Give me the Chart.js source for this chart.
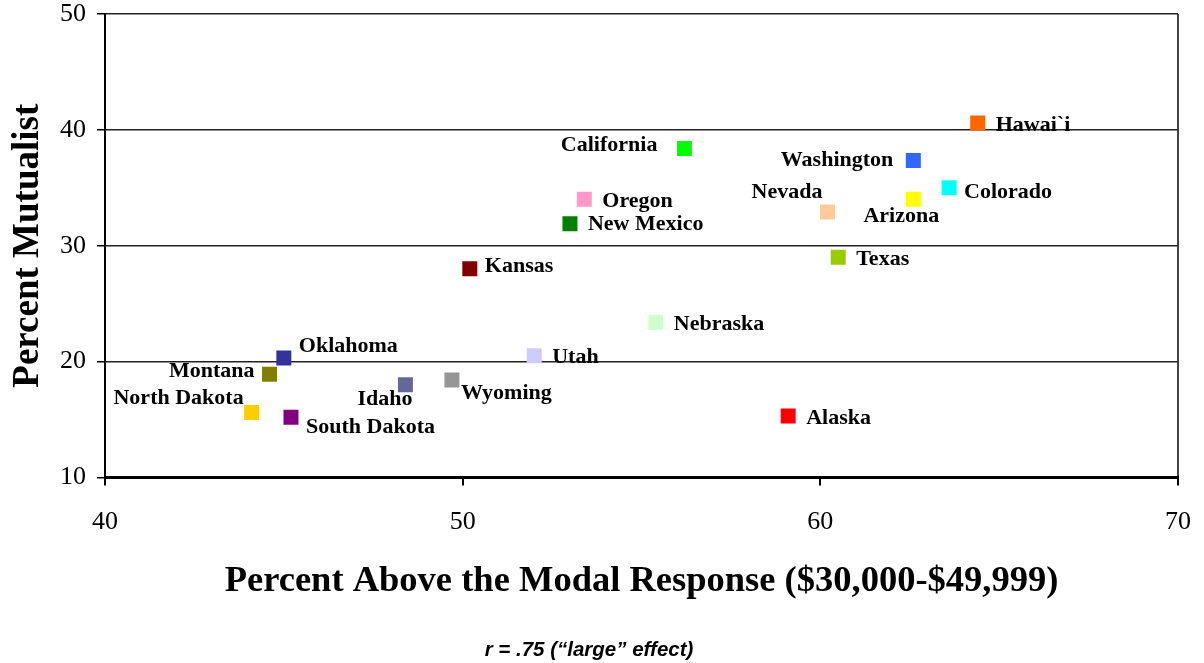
<!DOCTYPE html>
<html>
<head>
<meta charset="utf-8">
<script src="https://cdn.jsdelivr.net/npm/chart.js@4/dist/chart.umd.min.js"></script>
<style>
  html, body { margin: 0; padding: 0; background: #fff; }
  #wrap { width: 1204px; height: 663px; position: relative; }
</style>
</head>
<body>
<div id="wrap"><canvas id="chart"></canvas></div>
<script>
// states, x = percent above modal income response, y = percent mutualist
const states = ['Hawai`i', 'California', 'Washington', 'Colorado', 'Arizona', 'Oregon', 'Nevada',
  'New Mexico', 'Texas', 'Kansas', 'Nebraska', 'Utah', 'Oklahoma', 'Montana', 'Wyoming', 'Idaho',
  'North Dakota', 'South Dakota', 'Alaska'];
const aboveModal = [64.4, 56.2, 62.6, 63.6, 62.6, 53.4, 60.2, 53.0, 60.5, 50.2, 55.4, 52.0, 45.0, 44.6, 49.7, 48.4, 44.1, 45.2, 59.1];
const mutualist = [40.6, 38.4, 37.35, 35.0, 34.0, 34.0, 32.9, 31.9, 29.0, 28.0, 23.4, 20.5, 20.3, 18.9, 18.4, 18.0, 15.6, 15.2, 15.3];
const colors = ['#FF6600', '#00FF00', '#3366FF', '#00FFFF', '#FFFF00', '#FF99CC', '#FFCC99',
  '#008000', '#99CC00', '#800000', '#CCFFCC', '#CCCCFF', '#333399', '#808000', '#969696', '#666699',
  '#FFCC00', '#800080', '#FF0000'];
const xTicks = [40, 50, 60, 70];
const yTicks = [10, 20, 30, 40, 50];

// where each state name sits next to its marker (px offset, text align)
const labelPlace = [
  [18, 2, 'left'], [-27, -3, 'right'], [-20, 0, 'right'], [15, 5, 'left'], [-12, 17, 'center'],
  [18, 2, 'left'], [-5, -20, 'right'], [18, 1, 'left'], [18, 2, 'left'], [15, -3, 'left'],
  [18, 2, 'left'], [18, 2, 'left'], [15, -12, 'left'], [-15, -3, 'right'], [9, 13, 'left'],
  [7, 15, 'right'], [-8, -14, 'right'], [15, 10, 'left'], [18, 2, 'left']
];

const serif = '"Liberation Serif", "Times New Roman", serif';

const stateLabels = {
  id: 'stateLabels',
  afterDatasetsDraw(chart) {
    const ctx = chart.ctx;
    const meta = chart.getDatasetMeta(0);
    ctx.save();
    ctx.font = 'bold 22px ' + serif;
    ctx.fillStyle = '#000';
    ctx.textBaseline = 'middle';
    meta.data.forEach((pt, i) => {
      const [dx, dy, align] = labelPlace[i];
      ctx.textAlign = align;
      ctx.fillText(states[i], pt.x + dx, pt.y + dy);
    });
    ctx.restore();
  }
};

new Chart(document.getElementById('chart').getContext('2d'), {
  type: 'scatter',
  data: {
    datasets: [{
      data: states.map((s, i) => ({ x: aboveModal[i], y: mutualist[i] })),
      pointStyle: 'rect',
      pointRadius: 10.6,
      pointBackgroundColor: colors,
      pointBorderColor: colors,
      pointBorderWidth: 0,
    }]
  },
  options: {
    responsive: true,
    maintainAspectRatio: false,
    animation: false,
    layout: { padding: { top: 14, right: 26, left: 0, bottom: 0 } },
    plugins: {
      legend: { display: false },
      tooltip: { enabled: false },
      title: {
        display: true,
        position: 'bottom',
        text: 'r = .75 (\u201clarge\u201d effect)',
        color: '#000',
        font: { family: '"Liberation Sans", Arial, sans-serif', size: 20.5, weight: 'bold', style: 'italic', lineHeight: 1.2 },
        padding: { top: 0, bottom: 0 }
      }
    },
    scales: {
      x: {
        type: 'linear',
        min: 40, max: 70,
        afterBuildTicks: s => { s.ticks = xTicks.map(v => ({ value: v })); },
        afterFit: s => { s.height = 161; s.paddingLeft = 0; s.paddingRight = 0; },
        ticks: { color: '#000', padding: 21, font: { family: serif, size: 26 } },
        grid: {
          drawOnChartArea: true,
          color: c => (c.tick && c.tick.value === 70 ? '#444' : 'rgba(0,0,0,0)'),
          tickColor: '#000',
          lineWidth: 2,
          tickLength: 8
        },
        border: { color: '#000', width: 3 },
        title: {
          display: true,
          text: 'Percent Above the Modal Response ($30,000-$49,999)',
          color: '#000',
          font: { family: serif, size: 36.5, weight: 'bold', lineHeight: 1 },
          padding: { top: 0, bottom: 39 }
        }
      },
      y: {
        type: 'linear',
        min: 10, max: 50,
        afterBuildTicks: s => { s.ticks = yTicks.map(v => ({ value: v })); },
        afterFit: s => { s.width = 105; s.paddingTop = 0; s.paddingBottom = 0; },
        ticks: { color: '#000', padding: 11, font: { family: serif, size: 26 } },
        grid: { color: '#222', tickColor: '#000', lineWidth: 1.5, tickLength: 8 },
        border: { color: '#000', width: 2 },
        title: {
          display: true,
          text: 'Percent Mutualist',
          color: '#000',
          font: { family: serif, size: 37, weight: 'bold', lineHeight: 1 },
          padding: { top: 10, bottom: 0 }
        }
      }
    }
  },
  plugins: [stateLabels]
});
</script>
</body>
</html>
